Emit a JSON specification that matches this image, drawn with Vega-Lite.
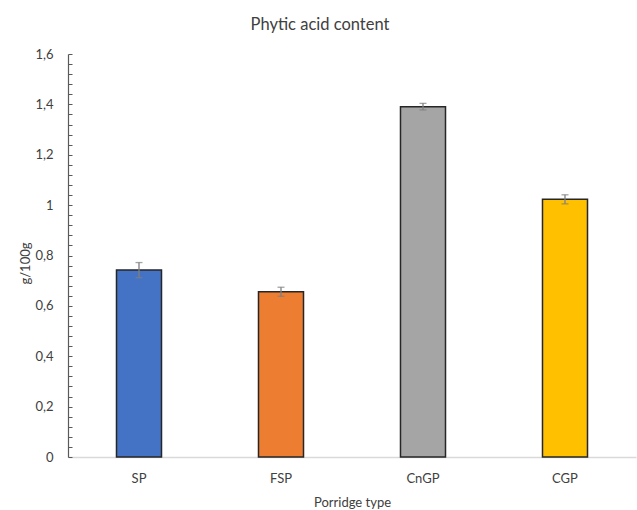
{
  "$schema": "https://vega.github.io/schema/vega-lite/v6.json",
  "width": 568,
  "height": 403,
  "autosize": {"type": "none"},
  "padding": {"left": 68, "top": 54, "right": 1, "bottom": 53},
  "background": "white",
  "title": {
    "text": "Phytic acid content",
    "fontSize": 16.5,
    "font": "Lato",
    "fontWeight": "normal",
    "color": "#404040",
    "anchor": "middle",
    "dx": -32,
    "offset": 15
  },
  "config": {
    "view": {"stroke": null},
    "font": "Lato"
  },
  "data": {
    "values": [
      {"type": "SP", "value": 0.742, "err": 0.03},
      {"type": "FSP", "value": 0.656, "err": 0.018},
      {"type": "CnGP", "value": 1.391, "err": 0.013},
      {"type": "CGP", "value": 1.023, "err": 0.018}
    ]
  },
  "encoding": {
    "x": {
      "field": "type",
      "type": "nominal",
      "sort": ["SP", "FSP", "CnGP", "CGP"],
      "scale": {"paddingInner": 0.683, "paddingOuter": 0.3415},
      "axis": {
        "title": "Porridge type",
        "labelAngle": 0,
        "ticks": false,
        "domainColor": "#d9d9d9",
        "domainWidth": 1.3,
        "labelFont": "Lato",
        "labelFontSize": 13,
        "labelColor": "#404040",
        "labelPadding": 15,
        "titleFont": "Lato",
        "titleFontSize": 13,
        "titleFontWeight": "normal",
        "titleColor": "#404040",
        "titlePadding": 11
      }
    },
    "y": {
      "field": "value",
      "type": "quantitative",
      "title": "g/100g",
      "scale": {"domain": [0, 1.6], "nice": false},
      "axis": {
        "title": "g/100g",
        "grid": false,
        "values": [0, 0.04, 0.08, 0.12, 0.16, 0.2, 0.24, 0.28, 0.32, 0.36, 0.4, 0.44, 0.48, 0.52, 0.56, 0.6, 0.64, 0.68, 0.72, 0.76, 0.8, 0.84, 0.88, 0.92, 0.96, 1, 1.04, 1.08, 1.12, 1.16, 1.2, 1.24, 1.28, 1.32, 1.36, 1.4, 1.44, 1.48, 1.52, 1.56, 1.6],
        "labelExpr": "abs(datum.value*5 - round(datum.value*5)) < 0.000001 ? replace(format(datum.value, '~g'), '.', ',') : ''",
        "labelOverlap": false,
        "labelBound": false,
        "labelFlush": false,
        "tickSize": -4,
        "tickColor": "#595959",
        "tickWidth": 1,
        "domainColor": "#595959",
        "domainWidth": 1.2,
        "labelPadding": 19,
        "labelFont": "Lato",
        "labelFontSize": 13,
        "labelColor": "#404040",
        "titleFont": "Lato",
        "titleFontSize": 13,
        "titleFontWeight": "normal",
        "titleColor": "#404040",
        "titleAngle": -90,
        "titleAlign": "center",
        "titleBaseline": "middle",
        "titleX": -43,
        "titleY": 209
      }
    }
  },
  "layer": [
    {
      "mark": {"type": "bar", "stroke": "#262626", "strokeWidth": 1.5},
      "encoding": {
        "color": {
          "field": "type",
          "type": "nominal",
          "scale": {"domain": ["SP", "FSP", "CnGP", "CGP"], "range": ["#4472C4", "#ED7D31", "#A5A5A5", "#FFC000"]},
          "legend": null
        }
      }
    },
    {
      "mark": {"type": "errorbar", "ticks": {"size": 7, "color": "#7f7f7f", "thickness": 1.3}, "rule": {"color": "#7f7f7f", "strokeWidth": 1.3}},
      "encoding": {
        "yError": {"field": "err"}
      }
    }
  ]
}
